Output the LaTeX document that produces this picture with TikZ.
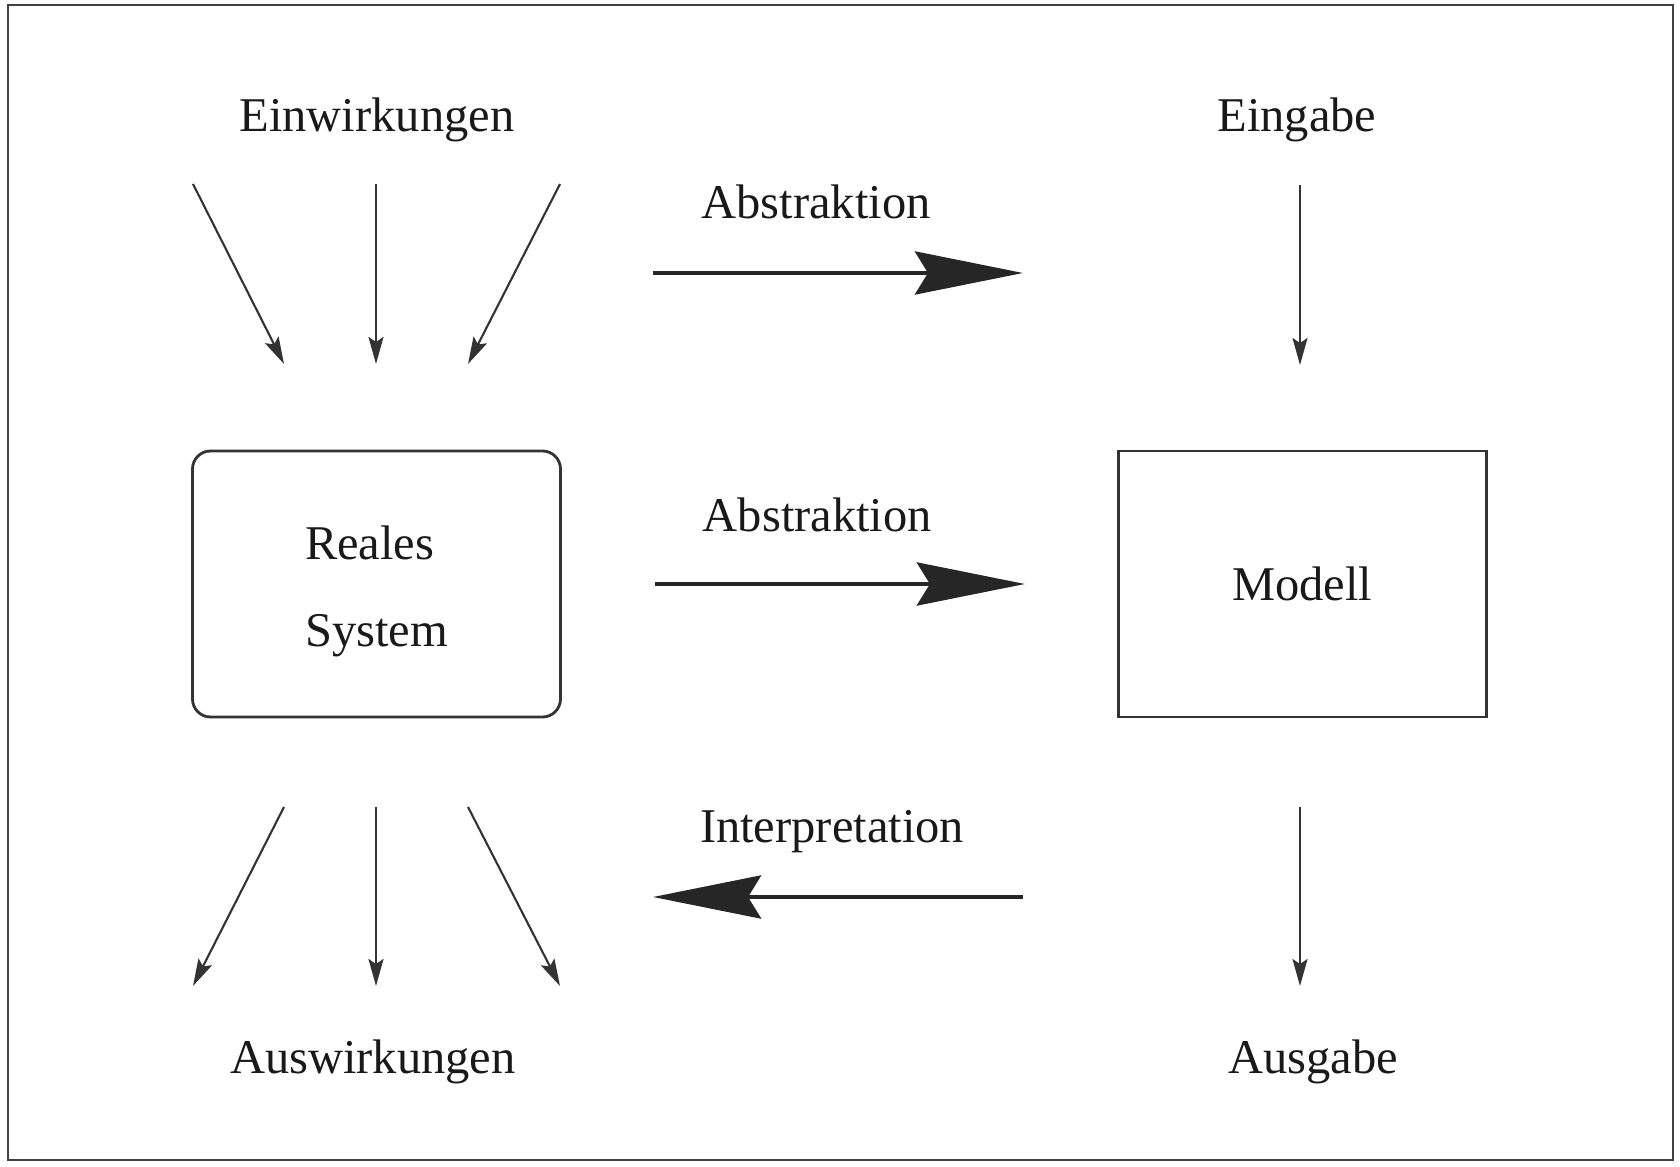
\documentclass[tikz,border=0pt]{standalone}
\usepackage{fontspec}
\setmainfont{Liberation Serif}
\usetikzlibrary{arrows.meta,positioning}

\begin{document}
\begin{tikzpicture}
  \tikzset{>=stealth,
    lbl/.style={font=\fontsize{13.8pt}{16pt}\selectfont, text=black!90},
    sysbox/.style={draw=black!80, line width=0.8pt, minimum width=3.68cm,
      minimum height=2.66cm, font=\fontsize{13.8pt}{24.8pt}\selectfont,
      text=black!90},
    thinarrow/.style={draw=black!80, line width=0.6pt,
      -{Stealth[length=2.7mm, width=1.5mm, inset=0.5mm]}},
    bigarrow/.style={draw=black!85, line width=1.4pt,
      -{Stealth[length=10.8mm, width=4.3mm, inset=1.3mm]}}}
  \useasboundingbox (0,0) rectangle (16.8,-11.67);
  \draw[black!75, line width=0.8pt] (0.08,-0.05) rectangle (16.73,-11.60);
  % the two boxes
  \node[sysbox, rounded corners=0.18cm, align=left] (reales) at (3.765,-5.84)
    {\rule{0pt}{4.9mm}Reales\\System};
  \node[sysbox, right=5.55cm of reales] (modell) {Modell};
  % labels
  \node[lbl, anchor=base] (einw) at (3.77,-1.32) {Einwirkungen};
  \node[lbl, anchor=base] (eingabe) at (12.97,-1.32) {Eingabe};
  \node[lbl, anchor=base] (ausw) at (3.73,-10.73) {Auswirkungen};
  \node[lbl, anchor=base] (ausgabe) at (13.13,-10.73) {Ausgabe};
  % thin arrows
  \foreach \i/\xa/\xb in {1/1.93/2.84, 2/3.76/3.76, 3/5.60/4.68} {
    \coordinate (ein\i) at (\xa,-1.84);
    \coordinate (ein\i') at (\xb,-3.64);
    \draw[thinarrow] (ein\i) -- (ein\i');
    \coordinate (aus\i) at (\xb,-8.07);
    \coordinate (aus\i') at (\xa,-9.86);
    \draw[thinarrow] (aus\i) -- (aus\i');
  }
  \coordinate (inA) at (13.0,-1.85);
  \coordinate (inB) at (13.0,-3.65);
  \draw[thinarrow] (inA) -- (inB);
  \coordinate (outA) at (13.0,-8.07);
  \coordinate (outB) at (13.0,-9.86);
  \draw[thinarrow] (outA) -- (outB);
  % thick arrows
  \coordinate (absL) at (6.53,-2.73);
  \coordinate (absR) at (10.23,-2.73);
  \draw[bigarrow] (absL) -- node[lbl, above=4mm, xshift=-2.2mm] {Abstraktion} (absR);
  \draw[bigarrow, shorten <=0.93cm, shorten >=0.92cm] (reales) --
    node[lbl, above=3.8mm, xshift=-2.2mm] {Abstraktion} (modell);
  \coordinate (intR) at (10.23,-8.97);
  \coordinate (intL) at (6.53,-8.97);
  \draw[bigarrow] (intR) -- node[lbl, above=3mm, xshift=-0.6mm] {Interpretation} (intL);
\end{tikzpicture}
\end{document}
